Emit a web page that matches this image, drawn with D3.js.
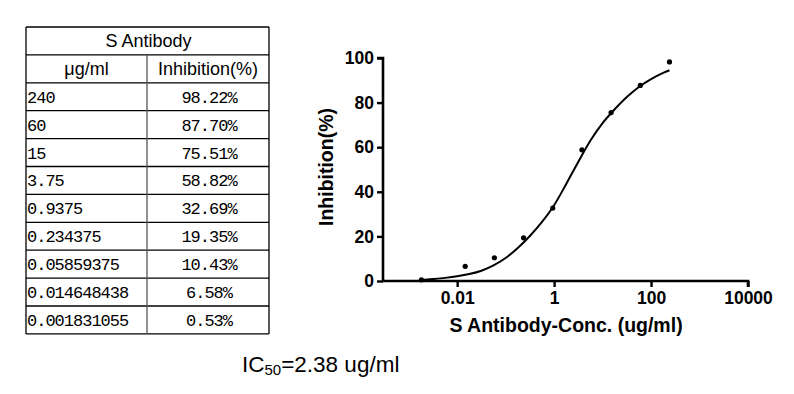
<!DOCTYPE html>
<html>
<head>
<meta charset="utf-8">
<script src="https://cdn.jsdelivr.net/npm/d3@7"></script>
<style>
  body { margin: 0; background: #fff; }
</style>
</head>
<body>
<script>
// table + points data
var concLabels = ["240", "60", "15", "3.75", "0.9375", "0.234375", "0.05859375", "0.014648438", "0.001831055"];
var conc = [240, 60, 15, 3.75, 0.9375, 0.234375, 0.05859375, 0.014648438, 0.001831055];
var inhibition = [98.22, 87.70, 75.51, 58.82, 32.69, 19.35, 10.43, 6.58, 0.53];
var inhibitionLabels = ["98.22%", "87.70%", "75.51%", "58.82%", "32.69%", "19.35%", "10.43%", "6.58%", "0.53%"];

// fitted curve (log10 conc, %)
var curveLog = [-2.74, -2.5, -2.25, -2.0, -1.75, -1.5, -1.25, -1.0, -0.75, -0.5, -0.25, 0.0, 0.25, 0.5, 0.75, 1.0, 1.25, 1.5, 1.75, 2.0, 2.25, 2.38];
var curveVal = [0.5, 0.9, 1.4, 2.1, 3.1, 4.6, 7.0, 10.3, 14.8, 20.2, 26.5, 34, 43.5, 53.5, 63, 70.8, 77, 82.5, 87, 90.5, 93.3, 94.5];

var xTicks = [0.01, 1, 100, 10000];
var yTicks = [0, 20, 40, 60, 80, 100];

var width = 794, height = 394;
var svg = d3.select('body').append('svg')
  .attr("width", width)
  .attr("height", height);

// ---- table ----
var tLeft = 26, tRight = 269, tTop = 27, rowH = 27.9, colDiv = 147;
var nRows = concLabels.length + 2;
var table = svg.append("g").attr("class", "table");

for (var r = 0; r <= nRows; r++) {
  table.append("line")
    .attr("x1", tLeft).attr("x2", tRight)
    .attr("y1", tTop + r * rowH).attr("y2", tTop + r * rowH)
    .attr("stroke", "#000").attr("stroke-width", 1.3);
}
table.append("line")
  .attr("x1", tLeft).attr("x2", tLeft)
  .attr("y1", tTop).attr("y2", tTop + nRows * rowH)
  .attr("stroke", "#000").attr("stroke-width", 1.3);
table.append("line")
  .attr("x1", tRight).attr("x2", tRight)
  .attr("y1", tTop).attr("y2", tTop + nRows * rowH)
  .attr("stroke", "#000").attr("stroke-width", 1.3);
table.append("line")
  .attr("x1", colDiv).attr("x2", colDiv)
  .attr("y1", tTop + rowH).attr("y2", tTop + nRows * rowH)
  .attr("stroke", "#555").attr("stroke-width", 1.3);

table.append("text")
  .attr("x", (tLeft + tRight) / 2 + 1).attr("y", tTop + rowH / 2 + 6.5)
  .attr("text-anchor", "middle")
  .style("font-family", "Liberation Sans, Arial, sans-serif")
  .style("font-size", "18px")
  .text("S Antibody");
table.append("text")
  .attr("x", (tLeft + colDiv) / 2).attr("y", tTop + rowH * 1.5 + 6.5)
  .attr("text-anchor", "middle")
  .style("font-family", "Liberation Sans, Arial, sans-serif")
  .style("font-size", "18px")
  .text("μg/ml");
table.append("text")
  .attr("x", (colDiv + tRight) / 2).attr("y", tTop + rowH * 1.5 + 6.5)
  .attr("text-anchor", "middle")
  .style("font-family", "Liberation Sans, Arial, sans-serif")
  .style("font-size", "18px")
  .text("Inhibition(%)");

table.selectAll("text.c1")
  .data(concLabels)
  .enter()
  .append("text")
  .attr("class", "c1")
  .attr("x", tLeft + 1)
  .attr("y", function(d, i) { return tTop + rowH * (i + 2.5) + 6; })
  .style("font-family", "Liberation Mono, monospace")
  .style("font-size", "17px")
  .style("letter-spacing", "-1px")
  .text(d => d);

table.selectAll("text.c2")
  .data(inhibitionLabels)
  .enter()
  .append("text")
  .attr("class", "c2")
  .attr("x", (colDiv + tRight) / 2 + 1)
  .attr("y", function(d, i) { return tTop + rowH * (i + 2.5) + 6; })
  .attr("text-anchor", "middle")
  .style("font-family", "Liberation Mono, monospace")
  .style("font-size", "17px")
  .style("letter-spacing", "-1px")
  .text(d => d);

// ---- chart ----
var x = d3.scaleLog().domain([Math.pow(10, -3.53), 10000]).range([383, 748]);
var y = d3.scaleLinear().domain([0, 100]).range([281, 58]);

var xAxis = svg.append("g")
  .attr("transform", "translate(0," + 281 + ")")
  .call(d3.axisBottom(x).tickValues(xTicks).tickFormat(d3.format("")).tickSize(6).tickPadding(5));
var yAxis = svg.append("g")
  .attr("transform", "translate(" + 383 + ",0)")
  .call(d3.axisLeft(y).tickValues(yTicks).tickSize(6).tickPadding(3));

[xAxis, yAxis].forEach(function(a) {
  a.select(".domain").attr("stroke-width", 2.6).attr("stroke", "#000");
  a.selectAll(".tick line").attr("stroke-width", 2.4).attr("stroke", "#000");
  a.selectAll(".tick text")
    .style("font-family", "Liberation Sans, Arial, sans-serif")
    .style("font-size", "17.5px")
    .style("font-weight", "bold")
    .attr("fill", "#000");
});
yAxis.select(".domain").attr("d", "M-6,58H0V281");
xAxis.select(".domain").attr("d", "M383,0H748V6");

svg.append("text")
  .attr("transform", "translate(333,167) rotate(-90)")
  .attr("text-anchor", "middle")
  .style("font-family", "Liberation Sans, Arial, sans-serif")
  .style("font-size", "19.5px")
  .style("font-weight", "bold")
  .text("Inhibition(%)");

svg.append("text")
  .attr("x", 566).attr("y", 332)
  .attr("text-anchor", "middle")
  .style("font-family", "Liberation Sans, Arial, sans-serif")
  .style("font-size", "19.5px")
  .style("font-weight", "bold")
  .text("S Antibody-Conc. (ug/ml)");

var line = d3.line()
  .x(function(d, i) { return x(Math.pow(10, d)); })
  .y(function(d, i) { return y(curveVal[i]); })
  .curve(d3.curveMonotoneX);

svg.append("path")
  .datum(curveLog)
  .attr("d", line)
  .attr("fill", "none")
  .attr("stroke", "#000")
  .attr("stroke-width", 2);

svg.selectAll("circle")
  .data(conc)
  .enter()
  .append("circle")
  .attr("cx", function(d) { return x(d); })
  .attr("cy", function(d, i) { return y(inhibition[i]); })
  .attr("r", 2.6)
  .attr("fill", "#000");

// IC50 note
var ic = svg.append("text")
  .attr("x", 242).attr("y", 372)
  .style("font-family", "Liberation Sans, Arial, sans-serif")
  .style("font-size", "22.5px");
ic.append("tspan").text("IC");
ic.append("tspan").style("font-size", "15px").attr("dy", 3).text("50");
ic.append("tspan").attr("dy", -3).text("=2.38 ug/ml");
</script>
</body>
</html>
